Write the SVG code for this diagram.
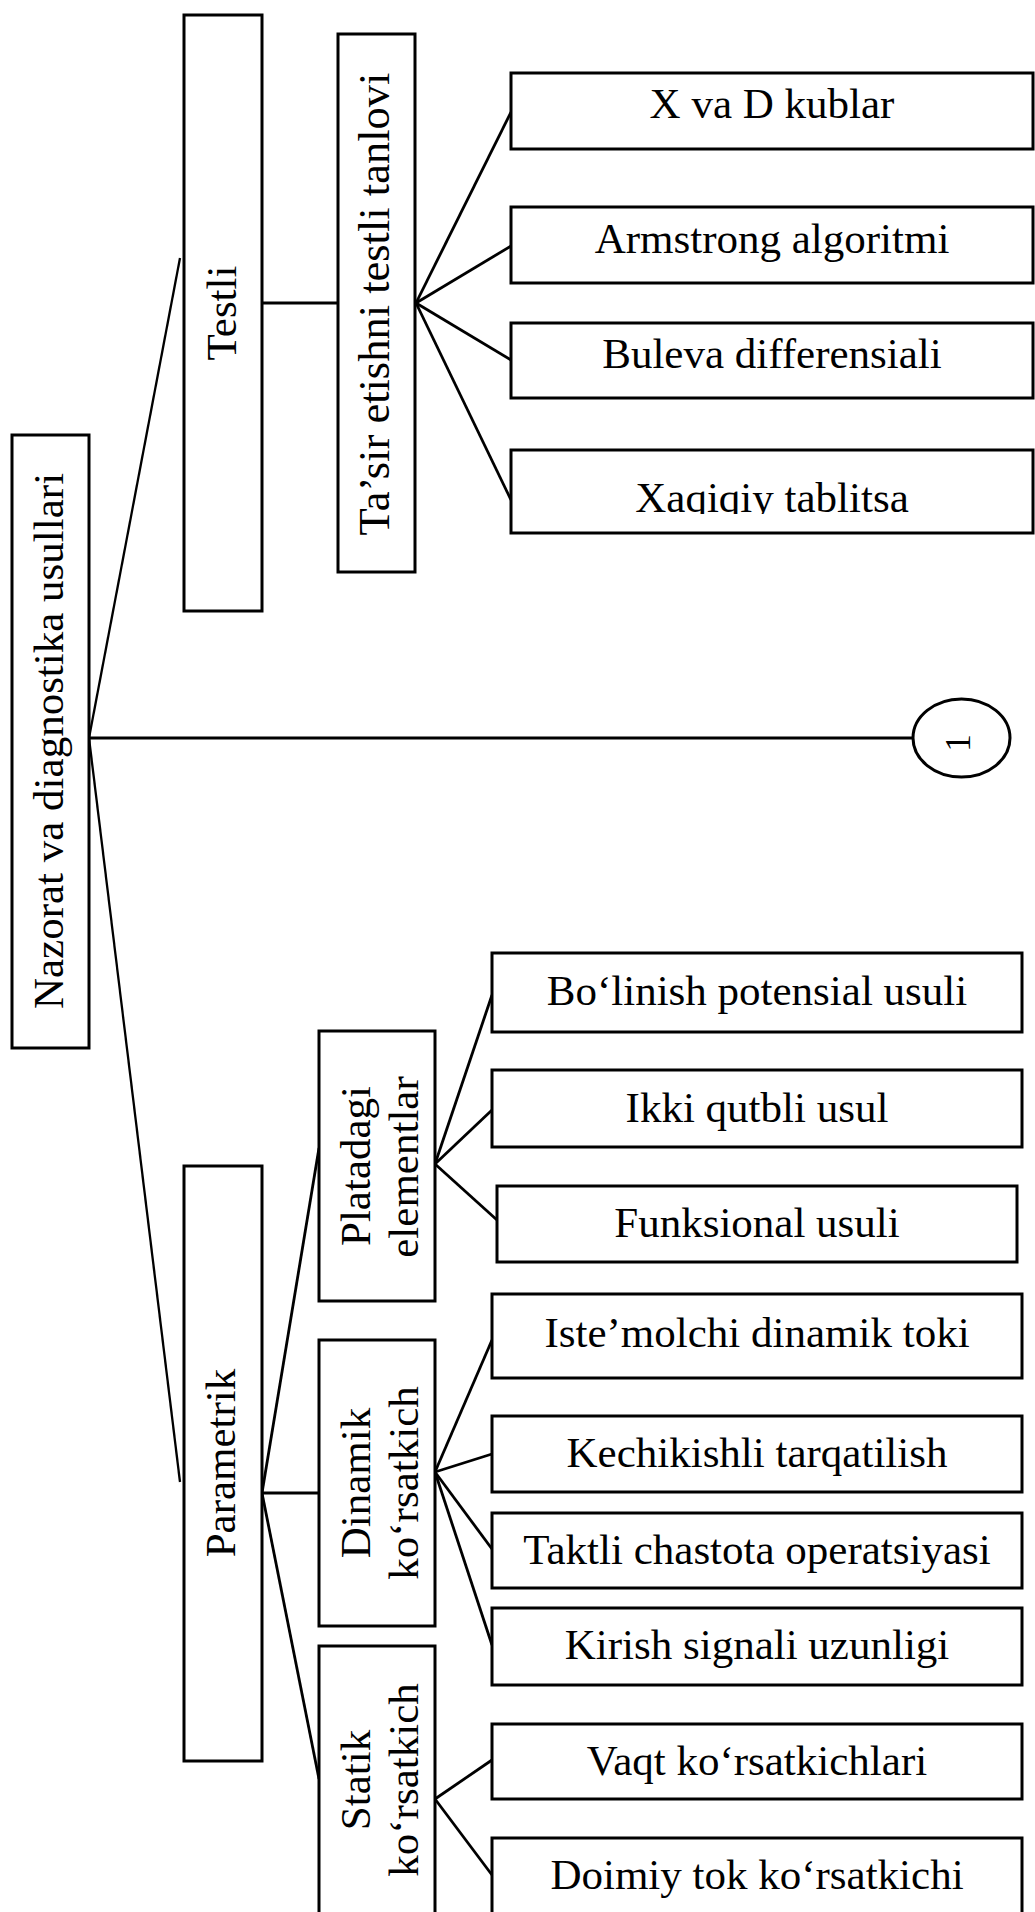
<svg xmlns="http://www.w3.org/2000/svg" width="1035" height="1912" viewBox="0 0 1035 1912">
<style>
rect.n{fill:#fff;stroke:#000;stroke-width:3}
ellipse.n{fill:#fff;stroke:#000;stroke-width:3}
text{font-family:"Liberation Serif","Times New Roman",serif;font-size:43px;fill:#000}
.h{text-anchor:middle}
#connectors line{stroke:#000;stroke-width:2.8;fill:none}
</style>
<defs>
<clipPath id="clipX"><rect x="511" y="450" width="524" height="64"/></clipPath>
</defs>
<rect width="1035" height="1912" fill="#fff"/>
<g id="connectors">
<line x1="89" y1="738" x2="180" y2="258" style="stroke-width:2.3"/>
<line x1="89" y1="738" x2="913" y2="738"/>
<line x1="89" y1="738" x2="180" y2="1482" style="stroke-width:2.3"/>
<line x1="262" y1="303" x2="338" y2="303"/>
<line x1="416" y1="303" x2="511" y2="112"/>
<line x1="416" y1="303" x2="511" y2="246"/>
<line x1="416" y1="303" x2="511" y2="360"/>
<line x1="416" y1="303" x2="511" y2="500"/>
<line x1="262" y1="1493" x2="319" y2="1148"/>
<line x1="262" y1="1493" x2="319" y2="1493"/>
<line x1="262" y1="1493" x2="319" y2="1779"/>
<line x1="435" y1="1164" x2="492" y2="995"/>
<line x1="435" y1="1164" x2="492" y2="1110"/>
<line x1="435" y1="1164" x2="497" y2="1220"/>
<line x1="435" y1="1472" x2="492" y2="1340"/>
<line x1="435" y1="1472" x2="492" y2="1454"/>
<line x1="435" y1="1472" x2="492" y2="1549"/>
<line x1="435" y1="1472" x2="492" y2="1645"/>
<line x1="435" y1="1799" x2="492" y2="1760"/>
<line x1="435" y1="1799" x2="492" y2="1875"/>
</g>
<g id="n-root"><rect class="n" x="12" y="435" width="77" height="613"/>
<text class="h" transform="translate(63,741) rotate(-90)">Nazorat va diagnostika usullari</text></g>
<g id="n-testli"><rect class="n" x="184" y="15" width="78" height="596"/>
<text class="h" transform="translate(236,313) rotate(-90)">Testli</text></g>
<g id="n-tasir"><rect class="n" x="338" y="34" width="77" height="538"/>
<text class="h" transform="translate(389,304) rotate(-90)" style="font-size:44.5px">Ta’sir etishni testli tanlovi</text></g>
<g id="n-xvad"><rect class="n" x="511" y="73" width="522" height="76"/>
<text class="h" x="772" y="118">X va D kublar</text></g>
<g id="n-armstrong"><rect class="n" x="511" y="207" width="522" height="76"/>
<text class="h" x="772" y="253">Armstrong algoritmi</text></g>
<g id="n-buleva"><rect class="n" x="511" y="323" width="522" height="75"/>
<text class="h" x="772" y="368">Buleva differensiali</text></g>
<g id="n-xaqiqiy"><rect class="n" x="511" y="450" width="522" height="83"/>
<text class="h" x="772" y="512" clip-path="url(#clipX)">Xaqiqiy tablitsa</text></g>
<g id="n-one"><ellipse class="n" cx="961.5" cy="738" rx="48.5" ry="39"/>
<text class="h" transform="translate(970,743) rotate(-90)" style="font-size:35px">1</text></g>
<g id="n-parametrik"><rect class="n" x="184" y="1166" width="78" height="595"/>
<text class="h" transform="translate(235,1463) rotate(-90)">Parametrik</text></g>
<g id="n-platadagi"><rect class="n" x="319" y="1031" width="116" height="270"/>
<text class="h" transform="translate(370,1166) rotate(-90)">Platadagi</text>
<text class="h" transform="translate(418,1167) rotate(-90)">elementlar</text></g>
<g id="n-dinamik"><rect class="n" x="319" y="1340" width="116" height="286"/>
<text class="h" transform="translate(370,1483) rotate(-90)">Dinamik</text>
<text class="h" transform="translate(418,1483) rotate(-90)">ko‘rsatkich</text></g>
<g id="n-statik"><rect class="n" x="319" y="1646" width="116" height="270"/>
<text class="h" transform="translate(370,1780) rotate(-90)">Statik</text>
<text class="h" transform="translate(418,1780) rotate(-90)">ko‘rsatkich</text></g>
<g id="n-bolinish"><rect class="n" x="492" y="953" width="530" height="79"/>
<text class="h" x="757" y="1005">Bo‘linish potensial usuli</text></g>
<g id="n-ikki"><rect class="n" x="492" y="1070" width="530" height="77"/>
<text class="h" x="757" y="1122">Ikki qutbli usul</text></g>
<g id="n-funksional"><rect class="n" x="497" y="1186" width="520" height="76"/>
<text class="h" x="757" y="1237">Funksional usuli</text></g>
<g id="n-istemolchi"><rect class="n" x="492" y="1294" width="530" height="84"/>
<text class="h" x="757" y="1347">Iste’molchi dinamik toki</text></g>
<g id="n-kechikishli"><rect class="n" x="492" y="1416" width="530" height="76"/>
<text class="h" x="757" y="1467">Kechikishli tarqatilish</text></g>
<g id="n-taktli"><rect class="n" x="492" y="1513" width="530" height="75"/>
<text class="h" x="757" y="1564">Taktli chastota operatsiyasi</text></g>
<g id="n-kirish"><rect class="n" x="492" y="1608" width="530" height="77"/>
<text class="h" x="757" y="1659">Kirish signali uzunligi</text></g>
<g id="n-vaqt"><rect class="n" x="492" y="1724" width="530" height="75"/>
<text class="h" x="757" y="1775">Vaqt ko‘rsatkichlari</text></g>
<g id="n-doimiy"><rect class="n" x="492" y="1838" width="530" height="78"/>
<text class="h" x="757" y="1889">Doimiy tok ko‘rsatkichi</text></g>
</svg>
